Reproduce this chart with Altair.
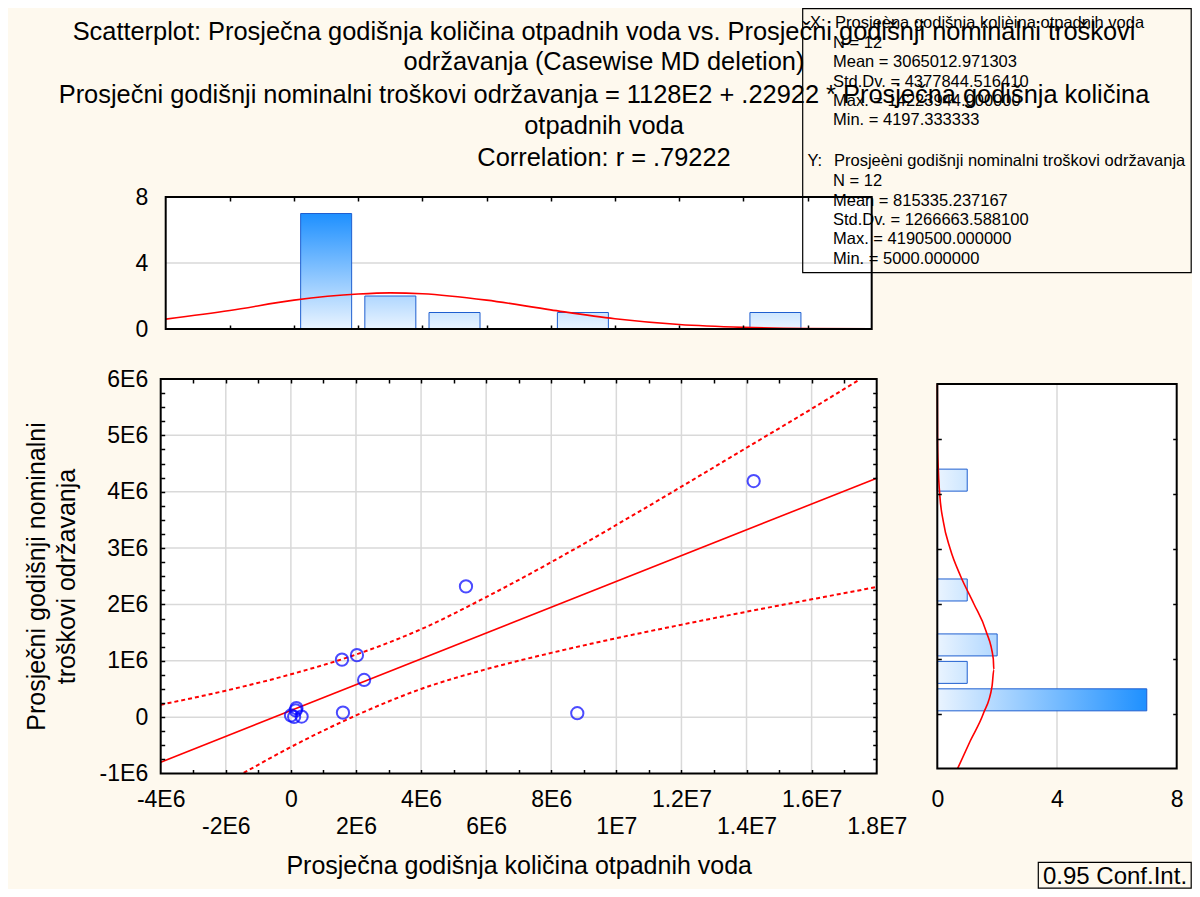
import altair as alt
import pandas as pd

# ------------------------------------------------------------------ data
X_VALUES = [14.22e6, 5.38e6, 1.57e6, 2.03e6, 2.25e6, 1.60e6, 8.80e6,
            0.0042e6, 0.17e6, 0.15e6, 0.10e6, 0.33e6]
Y_VALUES = [4.19e6, 2.32e6, 1.02e6, 1.10e6, 0.66e6, 0.08e6, 0.07e6,
            0.03e6, 0.16e6, 0.12e6, 0.005e6, 0.01e6]

REG_X = [-4e6, 1.8e7]
REG_Y = [-0.80e6, 4.24e6]

CI_UP_X = [-4e6, -2e6, 0, 2e6, 4e6, 6e6, 8e6, 10e6, 12e6, 14e6, 16e6, 17.5e6]
CI_UP_Y = [0.22e6, 0.47e6, 0.76e6, 1.11e6, 1.56e6, 2.13e6, 2.75e6, 3.41e6,
           4.09e6, 4.78e6, 5.47e6, 6.0e6]
CI_LO_X = [-1.45e6, 0, 2e6, 4e6, 6e6, 8e6, 10e6, 12e6, 14e6, 16e6, 18e6]
CI_LO_Y = [-0.99e6, -0.53e6, 0.03e6, 0.50e6, 0.85e6, 1.14e6, 1.40e6, 1.64e6,
           1.87e6, 2.09e6, 2.31e6]

TOP_BIN_CENTERS = [1e6, 3e6, 5e6, 9e6, 15e6]
TOP_COUNTS = [7, 2, 1, 1, 1]
RIGHT_BIN_CENTERS = [0.25e6, 0.75e6, 1.25e6, 2.25e6, 4.25e6]
RIGHT_COUNTS = [7, 1, 2, 1, 1]

TOP_CURVE_X = [-4e6, -2e6, 0, 2e6, 3e6, 4e6, 6e6, 8e6, 10e6, 12e6, 14e6, 16e6, 18e6]
TOP_CURVE_N = [0.60, 1.12, 1.75, 2.12, 2.19, 2.14, 1.75, 1.16, 0.62, 0.27, 0.10, 0.03, 0.01]
RIGHT_CURVE_Y = [-1e6, -0.5e6, 0, 0.5e6, 0.8e6, 1e6, 1.5e6, 2e6, 2.5e6, 3e6,
                 3.5e6, 4e6, 4.5e6, 5e6, 6e6]
RIGHT_CURVE_N = [0.68, 1.10, 1.54, 1.83, 1.89, 1.87, 1.63, 1.22, 0.78, 0.43,
                 0.20, 0.08, 0.03, 0.008, 0.0]

X_TICKS = [-4e6, -2e6, 0, 2e6, 4e6, 6e6, 8e6, 1e7, 1.2e7, 1.4e7, 1.6e7, 1.8e7]
X_TICK_LABELS = ["-4E6", "-2E6", "0", "2E6", "4E6", "6E6", "8E6", "1E7",
                 "1.2E7", "1.4E7", "1.6E7", "1.8E7"]
Y_TICKS = [-1e6, 0, 1e6, 2e6, 3e6, 4e6, 5e6, 6e6]
Y_TICK_LABELS = ["-1E6", "0", "1E6", "2E6", "3E6", "4E6", "5E6", "6E6"]
HIST_TICKS = [0, 4, 8]
HIST_TICK_LABELS = ["0", "4", "8"]

MAIN_GRID_X = [-2e6, 0, 2e6, 4e6, 6e6, 8e6, 10e6, 12e6, 14e6, 16e6]
MAIN_GRID_Y = [0, 1e6, 2e6, 3e6, 4e6, 5e6]
MAIN_MINOR_X = [i * 1e6 for i in range(-3, 18)]
MAIN_MINOR_Y = [i * 0.25e6 for i in range(-3, 24)]
TOP_TICKS_X = [i * 2e6 for i in range(-1, 9)]
RIGHT_TICKS_Y = [0, 1e6, 2e6, 3e6, 4e6, 5e6]
HIST_GRID = [4]

X_DOMAIN = [-4e6, 1.8e7]
Y_DOMAIN = [-1e6, 6e6]
COUNT_DOMAIN = [0, 8]

TITLE_LINES = [
    "Scatterplot: Prosječna godišnja količina otpadnih voda vs. Prosječni godišnji nominalni troškovi",
    "održavanja (Casewise MD deletion)",
    "Prosječni godišnji nominalni troškovi održavanja = 1128E2 + .22922 * Prosječna godišnja količina",
    "otpadnih voda",
    "Correlation: r = .79222",
]
X_TITLE = "Prosječna godišnja količina otpadnih voda"
Y_TITLE = ["Prosječni godišnji nominalni", "troškovi održavanja"]
STATS_X_HEAD = "Prosjeèna godišnja kolièina otpadnih voda"
STATS_X = ["N = 12", "Mean = 3065012.971303", "Std.Dv. = 4377844.516410",
           "Max. = 14223944.000000", "Min. = 4197.333333"]
STATS_Y_HEAD = "Prosjeèni godišnji nominalni troškovi održavanja"
STATS_Y = ["N = 12", "Mean = 815335.237167", "Std.Dv. = 1266663.588100",
           "Max. = 4190500.000000", "Min. = 5000.000000"]
CONF_LABEL = "0.95 Conf.Int."

# ------------------------------------------------------------------ style / geometry
FONT = "Liberation Sans"
BG = "#fef9ee"
GRID = "#d9d9d9"
RED = "#ff0000"
BAR_STROKE = "#1f5fd0"
W, H = 1184, 881
TITLE_FS = 25.4
AXTITLE_FS = 25
TICK_FS = 23
STATS_FS = 16.5

MAIN_L, MAIN_R = 152.7, 868.7
MAIN_T, MAIN_B = 371.0, 765.5
TOP_T, TOP_B = 189.0, 321.0
RH_L, RH_R = 929.3, 1168.7


def sc(domain, rng):
    return alt.Scale(domain=domain, range=rng, nice=False, zero=False)


MX = sc(X_DOMAIN, [MAIN_L, MAIN_R])
MY = sc(Y_DOMAIN, [MAIN_B, MAIN_T])
TY = sc(COUNT_DOMAIN, [TOP_B, TOP_T])
RX = sc(COUNT_DOMAIN, [RH_L, RH_R])

ONE = pd.DataFrame({"k": [0]})


def offset_for(orient, pos):
    if orient in ("top", "left"):
        return -pos
    if orient == "bottom":
        return pos - H
    return pos - W


def ticks_axis(orient, pos, values):
    return alt.Axis(orient=orient, offset=offset_for(orient, pos), values=values,
                    labels=False, domain=False, grid=False, ticks=True, tickSize=4,
                    tickWidth=1.5, tickColor="black", title=None, zindex=1)


def label_expr(values, labels, two_rows=False):
    expr = "''"
    for i in reversed(range(len(values))):
        lab = labels[i]
        txt = f"['', '{lab}']" if (two_rows and i % 2 == 1) else f"'{lab}'"
        expr = f"abs(datum.value - ({float(values[i])})) < 1 ? {txt} : {expr}"
    return expr


def xlabel_axis(values, labels, two_rows=False, title=None, title_x=0):
    kw = dict(orient="bottom", offset=offset_for("bottom", MAIN_B), values=values,
              labelExpr=label_expr(values, labels, two_rows), labelFont=FONT,
              labelFontSize=TICK_FS, labelColor="black", labelPadding=15,
              labelBaseline="top", labelLineHeight=27, labelFlush=False,
              labelOverlap=False, ticks=False, tickSize=0, domain=False, grid=False)
    if title:
        kw.update(title=title, titleFont=FONT, titleFontSize=AXTITLE_FS,
                  titleFontWeight="normal", titleColor="black", titleX=title_x,
                  titleY=80, titleBaseline="top", titleAlign="center")
    else:
        kw["title"] = None
    return alt.Axis(**kw)


def ylabel_axis(values, labels, title=None):
    kw = dict(orient="left", offset=offset_for("left", MAIN_L), values=values,
              labelExpr=label_expr(values, labels), labelFont=FONT, labelFontSize=TICK_FS,
              labelColor="black", labelPadding=13, labelBaseline="middle",
              labelAlign="right", labelFlush=False, labelOverlap=False, ticks=False,
              tickSize=0, domain=False, grid=False)
    if title:
        kw.update(title=title, titleFont=FONT, titleFontSize=AXTITLE_FS,
                  titleFontWeight="normal", titleColor="black", titleAngle=270,
                  titleX=-111, titleY=568, titleBaseline="bottom", titleAlign="center",
                  titleLineHeight=30)
    else:
        kw["title"] = None
    return alt.Axis(**kw)


def qd(v, ch, scale=None, axis=None):
    if ch == "x":
        return alt.XDatum(v, type="quantitative", scale=scale, axis=axis)
    if ch == "y":
        return alt.YDatum(v, type="quantitative", scale=scale, axis=axis)
    if ch == "x2":
        return alt.X2Datum(v)
    return alt.Y2Datum(v)


def lerp_color(t):
    light = (234, 244, 255)
    dark = (30, 144, 255)
    c = [round(light[k] + (dark[k] - light[k]) * t) for k in range(3)]
    return "#%02x%02x%02x" % tuple(c)


LIGHT = lerp_color(0)

# ------------------------------------------------------------------ main scatter panel
main_bg = alt.Chart(ONE).mark_rect(fill="white", strokeWidth=0).encode(
    x=qd(X_DOMAIN[0], "x", MX, xlabel_axis(X_TICKS, X_TICK_LABELS, True, X_TITLE,
                                           (MAIN_L + MAIN_R) / 2)),
    x2=qd(X_DOMAIN[1], "x2"),
    y=qd(Y_DOMAIN[0], "y", MY, ylabel_axis(Y_TICKS, Y_TICK_LABELS, Y_TITLE)),
    y2=qd(Y_DOMAIN[1], "y2"),
)
main_vgrid = alt.Chart(pd.DataFrame({"v": MAIN_GRID_X})).mark_rule(
    color=GRID, strokeWidth=1.5).encode(
    x=alt.X("v:Q", scale=MX, axis=ticks_axis("top", MAIN_B, MAIN_MINOR_X)),
    y=qd(Y_DOMAIN[0], "y", MY, ticks_axis("right", MAIN_L, MAIN_MINOR_Y)),
    y2=qd(Y_DOMAIN[1], "y2"),
)
main_hgrid = alt.Chart(pd.DataFrame({"v": MAIN_GRID_Y})).mark_rule(
    color=GRID, strokeWidth=1.5).encode(
    y=alt.Y("v:Q", scale=MY, axis=ticks_axis("left", MAIN_R, MAIN_MINOR_Y)),
    x=qd(X_DOMAIN[0], "x", MX, ticks_axis("bottom", MAIN_T, MAIN_MINOR_X)),
    x2=qd(X_DOMAIN[1], "x2"),
)
ci_df = pd.concat([
    pd.DataFrame({"x": CI_UP_X, "y": CI_UP_Y, "g": "upper"}),
    pd.DataFrame({"x": CI_LO_X, "y": CI_LO_Y, "g": "lower"}),
])
main_ci = alt.Chart(ci_df).mark_line(color=RED, strokeWidth=2, strokeDash=[4, 3],
                                      interpolate="monotone").encode(
    x=alt.X("x:Q", scale=MX, axis=None),
    y=alt.Y("y:Q", scale=MY, axis=None),
    detail="g:N",
)
main_reg = alt.Chart(pd.DataFrame({"x": REG_X, "y": REG_Y})).mark_line(
    color=RED, strokeWidth=1.6).encode(
    x=alt.X("x:Q", scale=MX, axis=None),
    y=alt.Y("y:Q", scale=MY, axis=None),
)
main_pts = alt.Chart(pd.DataFrame({"x": X_VALUES, "y": Y_VALUES})).mark_point(
    shape="circle", filled=False, size=150, color="#0000ff", strokeWidth=2).encode(
    x=alt.X("x:Q", scale=MX, axis=None),
    y=alt.Y("y:Q", scale=MY, axis=None),
)
main_frame = alt.Chart(ONE).mark_rect(fillOpacity=0, stroke="black", strokeWidth=2).encode(
    x=qd(X_DOMAIN[0], "x", MX), x2=qd(X_DOMAIN[1], "x2"),
    y=qd(Y_DOMAIN[0], "y", MY), y2=qd(Y_DOMAIN[1], "y2"),
)
main = alt.layer(main_bg, main_vgrid, main_hgrid, main_ci, main_reg, main_pts,
                 main_frame).resolve_axis(x="independent", y="independent")

# ------------------------------------------------------------------ top histogram
top_df = pd.DataFrame({"i": range(len(TOP_COUNTS)), "c": TOP_BIN_CENTERS, "n": TOP_COUNTS})
top_bg = alt.Chart(ONE).mark_rect(fill="white", strokeWidth=0).encode(
    x=qd(X_DOMAIN[0], "x", MX), x2=qd(X_DOMAIN[1], "x2"),
    y=qd(COUNT_DOMAIN[0], "y", TY, ylabel_axis(HIST_TICKS, HIST_TICK_LABELS)),
    y2=qd(COUNT_DOMAIN[1], "y2"),
)
top_grid = alt.Chart(pd.DataFrame({"v": HIST_GRID})).mark_rule(
    color=GRID, strokeWidth=1.5).encode(
    y=alt.Y("v:Q", scale=TY, axis=None),
    x=qd(X_DOMAIN[0], "x", MX, ticks_axis("top", TOP_B, TOP_TICKS_X)),
    x2=qd(X_DOMAIN[1], "x2"),
)
top_bars = []
mx_count = max(TOP_COUNTS)
for i, n in enumerate(TOP_COUNTS):
    grad = alt.LinearGradient(
        gradient="linear",
        stops=[alt.GradientStop(color=LIGHT, offset=0),
               alt.GradientStop(color=lerp_color(n / mx_count), offset=1)],
        x1=0, x2=0, y1=1, y2=0)
    top_bars.append(
        alt.Chart(top_df).transform_filter(alt.datum.i == i).mark_bar(
            orient="vertical", size=51, fill=grad, stroke=BAR_STROKE, strokeWidth=1).encode(
            x=alt.X("c:Q", scale=MX, axis=None),
            y=alt.Y("n:Q", scale=TY, axis=None),
        ))
top_curve = alt.Chart(pd.DataFrame({"x": TOP_CURVE_X, "n": TOP_CURVE_N})).mark_line(
    color=RED, strokeWidth=1.6, interpolate="monotone").encode(
    x=alt.X("x:Q", scale=MX, axis=None),
    y=alt.Y("n:Q", scale=TY, axis=None),
)
top_frame = alt.Chart(ONE).mark_rect(fillOpacity=0, stroke="black", strokeWidth=2).encode(
    x=qd(X_DOMAIN[0], "x", MX, ticks_axis("bottom", TOP_T, TOP_TICKS_X)),
    x2=qd(X_DOMAIN[1], "x2"),
    y=qd(COUNT_DOMAIN[0], "y", TY), y2=qd(COUNT_DOMAIN[1], "y2"),
)
top = alt.layer(top_bg, top_grid, *top_bars, top_curve, top_frame).resolve_axis(
    x="independent", y="independent")

# ------------------------------------------------------------------ right histogram
right_df = pd.DataFrame({"i": range(len(RIGHT_COUNTS)), "c": RIGHT_BIN_CENTERS,
                         "n": RIGHT_COUNTS})
right_bg = alt.Chart(ONE).mark_rect(fill="white", strokeWidth=0).encode(
    x=qd(COUNT_DOMAIN[0], "x", RX, xlabel_axis(HIST_TICKS, HIST_TICK_LABELS)),
    x2=qd(COUNT_DOMAIN[1], "x2"),
    y=qd(Y_DOMAIN[0], "y", MY), y2=qd(Y_DOMAIN[1], "y2"),
)
right_grid = alt.Chart(pd.DataFrame({"v": HIST_GRID})).mark_rule(
    color=GRID, strokeWidth=1.5).encode(
    x=alt.X("v:Q", scale=RX, axis=None),
    y=qd(Y_DOMAIN[0], "y", MY, ticks_axis("right", RH_L, RIGHT_TICKS_Y)),
    y2=qd(Y_DOMAIN[1], "y2"),
)
right_bars = []
mr_count = max(RIGHT_COUNTS)
for i, n in enumerate(RIGHT_COUNTS):
    grad = alt.LinearGradient(
        gradient="linear",
        stops=[alt.GradientStop(color=LIGHT, offset=0),
               alt.GradientStop(color=lerp_color(n / mr_count), offset=1)],
        x1=0, x2=1, y1=0, y2=0)
    right_bars.append(
        alt.Chart(right_df).transform_filter(alt.datum.i == i).mark_bar(
            orient="horizontal", size=22, fill=grad, stroke=BAR_STROKE, strokeWidth=1).encode(
            y=alt.Y("c:Q", scale=MY, axis=None),
            x=alt.X("n:Q", scale=RX, axis=None),
        ))
right_curve = alt.Chart(pd.DataFrame({"y": RIGHT_CURVE_Y, "n": RIGHT_CURVE_N})).mark_line(
    color=RED, strokeWidth=1.6, interpolate="monotone").encode(
    y=alt.Y("y:Q", scale=MY, axis=None),
    x=alt.X("n:Q", scale=RX, axis=None),
    order="y:Q",
)
right_frame = alt.Chart(ONE).mark_rect(fillOpacity=0, stroke="black", strokeWidth=2).encode(
    x=qd(COUNT_DOMAIN[0], "x", RX), x2=qd(COUNT_DOMAIN[1], "x2"),
    y=qd(Y_DOMAIN[0], "y", MY, ticks_axis("left", RH_R, RIGHT_TICKS_Y)),
    y2=qd(Y_DOMAIN[1], "y2"),
)
right = alt.layer(right_bg, right_grid, *right_bars, right_curve, right_frame).resolve_axis(
    x="independent", y="independent")


# ------------------------------------------------------------------ annotations
def text_layer(txt, x, y, size, align="left", baseline="middle"):
    return alt.Chart(ONE).mark_text(font=FONT, fontSize=size, align=align,
                                    baseline=baseline, color="black").encode(
        x=alt.value(x), y=alt.value(y), text=alt.value(txt))


def box_layer(x1, x2, y1, y2, width=1.2):
    return alt.Chart(ONE).mark_rect(fillOpacity=0, stroke="black", strokeWidth=width).encode(
        x=alt.value(x1), x2=alt.value(x2), y=alt.value(y1), y2=alt.value(y2))


annots = []
for line, yb in zip(TITLE_LINES, [32, 62, 95, 126, 158]):
    annots.append(text_layer(line, 596, yb, TITLE_FS, align="center", baseline="alphabetic"))
annots.append(box_layer(794.7, 1183.2, 0.6, 264.7))
annots.append(text_layer("X:", 802, 14.7, STATS_FS))
annots.append(text_layer(STATS_X_HEAD, 827, 14.7, STATS_FS))
for j, s in enumerate(STATS_X):
    annots.append(text_layer(s, 825, 34.7 + 19.4 * j, STATS_FS))
annots.append(text_layer("Y:", 799.5, 153.3, STATS_FS))
annots.append(text_layer(STATS_Y_HEAD, 826, 153.3, STATS_FS))
for j, s in enumerate(STATS_Y):
    annots.append(text_layer(s, 825, 173.3 + 19.3 * j, STATS_FS))
annots.append(box_layer(1030.3, 1183.2, 854.3, 880.2))
annots.append(text_layer(CONF_LABEL, 1107, 876, 24, align="center", baseline="alphabetic"))
annot = alt.layer(*annots)

chart = alt.layer(main, top, right, annot).resolve_scale(
    x="independent", y="independent").properties(
    width=W, height=H, autosize=alt.AutoSizeParams(type="none"), padding=0,
).configure(background=BG).configure_view(strokeWidth=0)

chart.save("out.html", embed_options={"renderer": "svg", "actions": False})
